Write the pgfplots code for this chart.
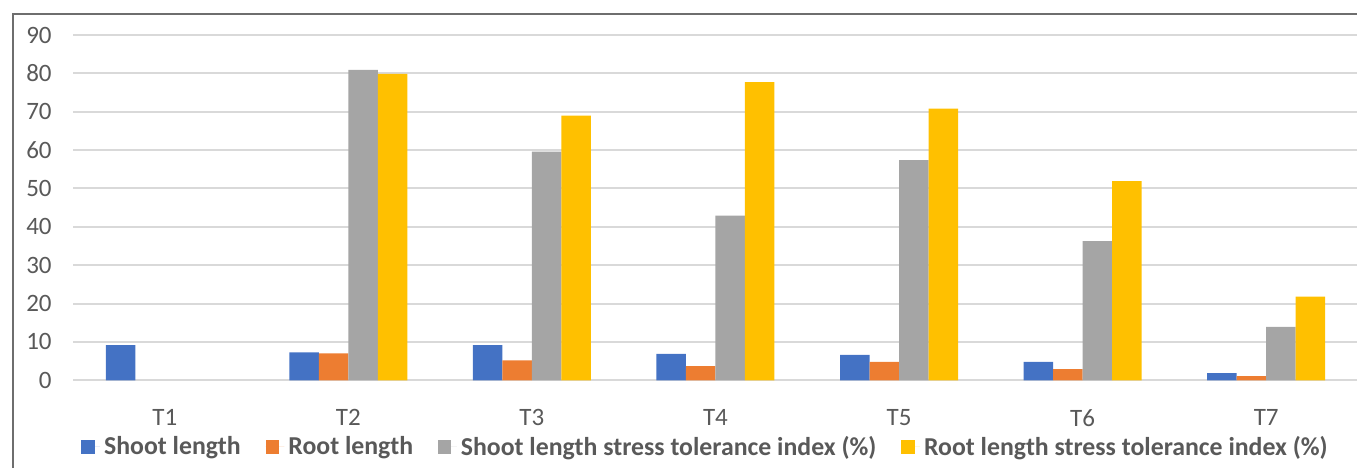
\documentclass[border=0pt]{standalone}
\usepackage{fontspec}
\setmainfont{Carlito}
\usepackage{pgfplots}
\pgfplotsset{compat=1.18}
\definecolor{cBlue}{HTML}{4472C4}
\definecolor{cOrange}{HTML}{ED7D31}
\definecolor{cGrey}{HTML}{A5A5A5}
\definecolor{cYellow}{HTML}{FFC000}
\definecolor{cText}{HTML}{595959}
\definecolor{cGrid}{HTML}{D9D9D9}
\definecolor{cFrame}{HTML}{6E6E6E}
\begin{document}
\begin{tikzpicture}
\begin{axis}[
  at={(36.5pt,43.85pt)}, anchor=south west,
  scale only axis,
  width=642.5pt, height=172.65pt,
  ybar=0pt, bar width=14.75pt,
  xmin=-0.5, xmax=6.5, ymin=0, ymax=90,
  xtick={0,1,2,3,4,5,6},
  xticklabels={T1,T2,T3,T4,T5,T6,T7},
  ytick={0,10,...,90},
  ymajorgrids, grid style={cGrid, line width=1pt},
  axis line style={draw=none},
  major tick length=0pt,
  /pgf/number format/assume math mode=true,
  tick label style={font=\fontsize{12.5}{14}\selectfont, text=cText, inner sep=0pt},
  yticklabel style={anchor=east, xshift=-10.5pt},
  xticklabel style={anchor=north, yshift=-14.5pt},
  legend columns=4,
  legend style={at={(0.493,-0.193)}, anchor=center, draw=none, fill=none,
    font=\bfseries\fontsize{12.9}{14}\selectfont, text=cText,
    /tikz/every even column/.append style={column sep=10.5pt}},
  legend image code/.code={\fill[#1] (0pt,-3.3pt) rectangle (6.6pt,3.3pt);\path (0pt,0pt) -- (9.4pt,0pt);},
  clip=false,
]
\addplot[fill=cBlue, draw=none] coordinates {(0,9.2) (1,7.3) (2,9.2) (3,6.9) (4,6.6) (5,4.8) (6,1.9)};
\addplot[fill=cOrange, draw=none] coordinates {(1,7.0) (2,5.2) (3,3.7) (4,4.8) (5,2.9) (6,1.1)};
\addplot[fill=cGrey, draw=none] coordinates {(1,80.9) (2,59.6) (3,42.9) (4,57.4) (5,36.3) (6,13.9)};
\addplot[fill=cYellow, draw=none] coordinates {(1,79.9) (2,69.0) (3,77.7) (4,70.8) (5,51.9) (6,21.8)};
\legend{Shoot length, Root length, Shoot length stress tolerance index (\%), Root length stress tolerance index (\%)}
\end{axis}
\draw[cFrame, line width=1pt] (6.5pt,0pt) -- (6.5pt,227pt) -- (679pt,227pt);
\pgfresetboundingbox
\path[use as bounding box] (0pt,0pt) rectangle (678.5pt,234pt);
\end{tikzpicture}
\end{document}
